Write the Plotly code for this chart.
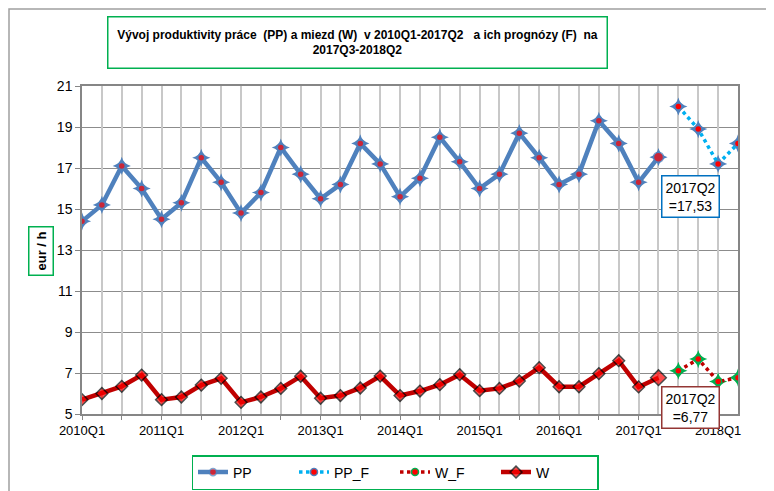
import plotly.graph_objects as go

# ---- data ----
QUARTERS = [f"{y}Q{q}" for y in range(2010, 2019) for q in range(1, 5)][:34]
HIST_Q = QUARTERS[:30]          # 2010Q1 - 2017Q2
FCST_Q = QUARTERS[30:34]        # 2017Q3 - 2018Q2

PP = [14.4, 15.2, 17.1, 16.0, 14.5, 15.3, 17.5, 16.3, 14.8, 15.8, 18.0, 16.7,
      15.5, 16.2, 18.2, 17.2, 15.6, 16.5, 18.5, 17.3, 16.0, 16.7, 18.7, 17.5,
      16.2, 16.7, 19.3, 18.2, 16.3, 17.53]
W = [5.7, 6.0, 6.35, 6.9, 5.7, 5.83, 6.41, 6.74, 5.57, 5.83, 6.25, 6.84,
     5.77, 5.9, 6.27, 6.85, 5.9, 6.12, 6.43, 6.92, 6.14, 6.25, 6.61, 7.26,
     6.33, 6.33, 6.97, 7.6, 6.32, 6.77]
PP_F = [20.0, 18.9, 17.2, 18.2]
W_F = [7.11, 7.68, 6.58, 6.77]

TICK_Q = ["2010Q1", "2011Q1", "2012Q1", "2013Q1", "2014Q1", "2015Q1",
          "2016Q1", "2017Q1", "2018Q1"]

x_hist = [QUARTERS.index(q) for q in HIST_Q]
x_fcst = [QUARTERS.index(q) for q in FCST_Q]
tickvals = [QUARTERS.index(q) for q in TICK_Q]

BLUE = "#4f81bd"
LBLUE = "#00b0f0"
DRED = "#c00000"
GREEN = "#00b050"
FONT = "Liberation Sans, Arial, sans-serif"

# page is offset by the 8px body margin: figure is 766x483
W_FIG, H_FIG = 766, 483
PL, PT, PW, PH = 74, 78, 656, 328   # plot area in figure px


def px(xp):   # page x -> paper
    return (xp - 8 - PL) / PW


def py(yp):   # page y -> paper
    return (PT + PH - (yp - 8)) / PH


fig = go.Figure()

pp_sizes = [7] * (len(PP) - 1) + [10]
w_sizes = [9] * (len(W) - 1) + [12]

# underlay spikes (no legend)
fig.add_trace(go.Scatter(x=x_hist, y=PP, mode="markers", showlegend=False, hoverinfo="skip",
                         marker=dict(symbol="star-diamond", size=13, color=BLUE, line=dict(width=0))))
fig.add_trace(go.Scatter(x=x_fcst, y=PP_F, mode="markers", showlegend=False, hoverinfo="skip",
                         marker=dict(symbol="star-diamond", size=13, color=BLUE, line=dict(width=0))))
fig.add_trace(go.Scatter(x=x_fcst, y=W_F, mode="markers", showlegend=False, hoverinfo="skip",
                         marker=dict(symbol="star-diamond", size=13, color=GREEN, line=dict(width=0))))

fig.add_trace(go.Scatter(x=x_hist, y=PP, name="PP", mode="lines+markers",
                         line=dict(color=BLUE, width=4.5),
                         marker=dict(symbol="circle", size=pp_sizes, color="red",
                                     line=dict(color=BLUE, width=1.5))))
fig.add_trace(go.Scatter(x=x_fcst, y=PP_F, name="PP_F", mode="lines+markers",
                         line=dict(color=LBLUE, width=3.5, dash="dot"),
                         marker=dict(symbol="circle", size=7, color="red",
                                     line=dict(color=BLUE, width=1.5))))
fig.add_trace(go.Scatter(x=x_fcst, y=W_F, name="W_F", mode="lines+markers",
                         line=dict(color=DRED, width=3.5, dash="dot"),
                         marker=dict(symbol="circle", size=7, color="red",
                                     line=dict(color=GREEN, width=1.5))))
fig.add_trace(go.Scatter(x=x_hist, y=W, name="W", mode="lines+markers",
                         line=dict(color=DRED, width=4.5),
                         marker=dict(symbol="diamond", size=w_sizes, color="red",
                                     line=dict(color="black", width=1.5))))

# invisible trace to activate xaxis2 (quarterly vertical gridlines)
fig.add_trace(go.Scatter(x=[0], y=[5], xaxis="x2", mode="markers", showlegend=False,
                         hoverinfo="skip", marker=dict(opacity=0)))

fig.update_layout(
    width=W_FIG, height=H_FIG,
    margin=dict(l=PL, r=W_FIG - PL - PW, t=PT, b=H_FIG - PT - PH, autoexpand=False),
    paper_bgcolor="white", plot_bgcolor="white",
    font=dict(family=FONT, size=14, color="black"),
    showlegend=True,
    legend=dict(orientation="h", x=px(395), xanchor="center", y=py(455), yanchor="top",
                bordercolor=GREEN, borderwidth=1.5, font=dict(size=14, family=FONT),
                entrywidth=56, entrywidthmode="pixels", traceorder="normal"),
    xaxis=dict(range=[0, 33], tickvals=tickvals, ticktext=TICK_Q,
               showgrid=False, zeroline=False,
               showline=True, linecolor="#868686", linewidth=1.5, mirror=True,
               ticks="outside", ticklen=4, tickcolor="#868686",
               minor=dict(dtick=2, tick0=0, ticks="outside", ticklen=4, tickcolor="#868686",
                          showgrid=False),
               tickfont=dict(size=13, family=FONT)),
    xaxis2=dict(range=[0, 33], overlaying="x", dtick=1, tick0=0, showgrid=True,
                gridcolor="#c8c8c8", gridwidth=1.5, showticklabels=False, zeroline=False,
                showline=False, ticks="", layer="below traces"),
    yaxis=dict(range=[5, 21], dtick=2, tick0=5, showgrid=True, gridcolor="#8c8c8c",
               gridwidth=1.2, zeroline=False,
               showline=True, linecolor="#868686", linewidth=1.5, mirror=True,
               ticks="outside", ticklen=5, tickcolor="#868686",
               tickfont=dict(size=14, family=FONT)),
)

fig.add_annotation(
    text="Vývoj produktivity práce  (PP) a miezd (W)  v 2010Q1-2017Q2   a ich prognózy (F)  na<br>2017Q3-2018Q2",
    xref="paper", yref="paper", x=px(357), y=py(42),
    xanchor="center", yanchor="middle", showarrow=False, align="center",
    font=dict(family=FONT, size=12, color="black", weight="bold"),
    bordercolor=GREEN, borderwidth=1.5, borderpad=4, width=490, height=42, bgcolor="white")

fig.add_annotation(
    text="<b>eur / h</b>", xref="paper", yref="paper",
    x=px(41), y=py(251), xanchor="center", yanchor="middle",
    showarrow=False, textangle=-90, font=dict(family=FONT, size=13),
    bordercolor=GREEN, borderwidth=1.5, borderpad=4, bgcolor="white")

fig.add_annotation(
    text="2017Q2<br>=17,53", xref="paper", yref="paper",
    x=px(690), y=py(196.5), xanchor="center", yanchor="middle",
    showarrow=False, align="center", font=dict(family=FONT, size=14),
    bordercolor="#0070c0", borderwidth=1.5, borderpad=3, bgcolor="white")

fig.add_annotation(
    text="2017Q2<br>=6,77", xref="paper", yref="paper",
    x=px(690), y=py(407), xanchor="center", yanchor="middle",
    showarrow=False, align="center", font=dict(family=FONT, size=14),
    bordercolor="#943634", borderwidth=1.5, borderpad=3, bgcolor="white")

# outer chart border
fig.add_shape(type="rect", xref="paper", yref="paper",
              x0=px(9), x1=1.3, y0=py(9), y1=-0.4,
              line=dict(color="#a0a0a0", width=1.5), layer="below")

fig.write_html("out.html")
